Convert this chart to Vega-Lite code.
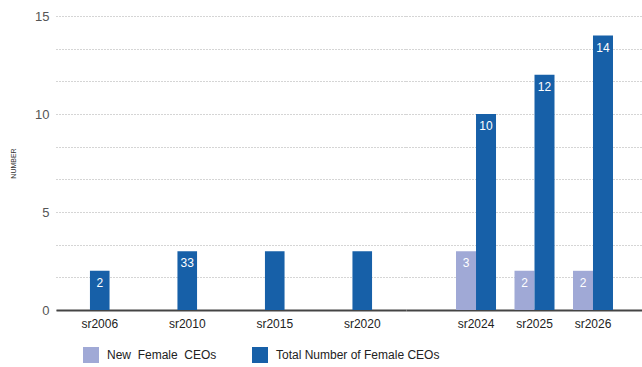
{
  "$schema": "https://vega.github.io/schema/vega-lite/v6.json",
  "autosize": {"type": "pad"},
  "padding": {"left": 9, "top": 10, "right": 0, "bottom": 0},
  "background": "white",
  "data": {
    "values": [
      {"cat": "sr2006", "series": "Total Number of Female CEOs", "value": 2, "label": "2"},
      {"cat": "sr2010", "series": "Total Number of Female CEOs", "value": 3, "label": "33"},
      {"cat": "sr2015", "series": "Total Number of Female CEOs", "value": 3, "label": ""},
      {"cat": "sr2020", "series": "Total Number of Female CEOs", "value": 3, "label": ""},
      {"cat": "sr2024", "series": "New\u00a0 Female\u00a0 CEOs", "value": 3, "label": "3"},
      {"cat": "sr2024", "series": "Total Number of Female CEOs", "value": 10, "label": "10"},
      {"cat": "sr2025", "series": "New\u00a0 Female\u00a0 CEOs", "value": 2, "label": "2"},
      {"cat": "sr2025", "series": "Total Number of Female CEOs", "value": 12, "label": "12"},
      {"cat": "sr2026", "series": "New\u00a0 Female\u00a0 CEOs", "value": 2, "label": "2"},
      {"cat": "sr2026", "series": "Total Number of Female CEOs", "value": 14, "label": "14"}
    ]
  },
  "spacing": 0,
  "resolve": {"axis": {"y": "independent", "x": "independent"}},
  "config": {
    "view": {"stroke": null},
    "font": "Liberation Sans",
    "axis": {
      "labelFont": "Liberation Sans",
      "titleFont": "Liberation Sans"
    },
    "legend": {
      "orient": "none",
      "legendX": 27,
      "legendY": 331,
      "direction": "horizontal",
      "symbolType": "square",
      "symbolSize": 256,
      "symbolStrokeWidth": 0,
      "labelFontSize": 12,
      "labelColor": "#222",
      "labelOffset": 8,
      "labelLimit": 400,
      "columnPadding": 35,
      "title": null
    }
  },
  "hconcat": [
    {
      "width": 350,
      "height": 294,
      "transform": [{"filter": "indexof(['sr2006','sr2010','sr2015','sr2020'], datum.cat) >= 0"}],
      "encoding": {
        "x": {
          "field": "cat", "type": "nominal", "sort": null,
          "scale": {"paddingInner": 0.776, "paddingOuter": 0.388},
          "axis": {"title": null, "labelAngle": 0, "ticks": false, "labelPadding": 8, "labelFontSize": 12, "labelColor": "#222", "domainColor": "#444", "domainWidth": 2}
        },
        "y": {
          "field": "value", "type": "quantitative",
          "scale": {"domain": [0, 15], "nice": false},
          "axis": {
            "title": "NUMBER", "titleFontSize": 7, "titleFontWeight": "normal", "titleColor": "#333", "titlePadding": 18,
            "values": [0, 1.6667, 3.3333, 5, 6.6667, 8.3333, 10, 11.6667, 13.3333, 15],
            "labelExpr": "abs(datum.value - round(datum.value/5)*5) < 0.01 ? format(round(datum.value),'d') : ''",
            "ticks": false, "domain": false, "labelPadding": 7, "labelFontSize": 13, "labelColor": "#555",
            "gridColor": "#aaa", "gridDash": [1, 2], "gridWidth": 1
          }
        }
      },
      "layer": [
        {
          "mark": {"type": "bar"},
          "encoding": {
            "color": {
              "field": "series", "type": "nominal",
              "scale": {"domain": ["New\u00a0 Female\u00a0 CEOs", "Total Number of Female CEOs"], "range": ["#a0a9d6", "#1760a8"]}
            }
          }
        },
        {
          "mark": {"type": "text", "baseline": "top", "dy": 7, "fontSize": 12, "color": "white"},
          "encoding": {"text": {"field": "label"}}
        }
      ]
    },
    {
      "width": 237,
      "height": 294,
      "transform": [{"filter": "indexof(['sr2024','sr2025','sr2026'], datum.cat) >= 0"}],
      "encoding": {
        "x": {
          "field": "cat", "type": "nominal", "sort": null,
          "scale": {"paddingInner": 0.316, "paddingOuter": 0.684, "align": 0.625},
          "axis": {"title": null, "labelAngle": 0, "ticks": false, "labelPadding": 8, "labelFontSize": 12, "labelColor": "#222", "domainColor": "#444", "domainWidth": 2}
        },
        "xOffset": {"field": "series", "type": "nominal", "sort": null, "scale": {"paddingInner": 0}},
        "y": {
          "field": "value", "type": "quantitative",
          "scale": {"domain": [0, 15], "nice": false},
          "axis": {
            "title": null, "labels": false, "ticks": false, "domain": false,
            "values": [0, 1.6667, 3.3333, 5, 6.6667, 8.3333, 10, 11.6667, 13.3333, 15],
            "gridColor": "#aaa", "gridDash": [1, 2], "gridWidth": 1
          }
        }
      },
      "layer": [
        {
          "mark": {"type": "bar"},
          "encoding": {
            "color": {
              "field": "series", "type": "nominal",
              "scale": {"domain": ["New\u00a0 Female\u00a0 CEOs", "Total Number of Female CEOs"], "range": ["#a0a9d6", "#1760a8"]}
            }
          }
        },
        {
          "mark": {"type": "text", "baseline": "top", "dy": 7, "fontSize": 12, "color": "white"},
          "encoding": {"text": {"field": "label"}}
        }
      ]
    }
  ]
}
